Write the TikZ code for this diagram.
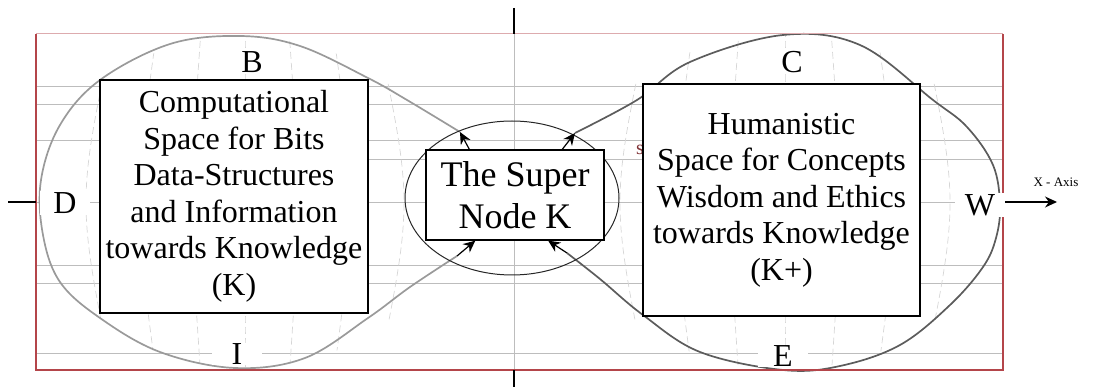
\documentclass[tikz,border=0pt]{standalone}
\usepackage{fontspec}
\setmainfont{Liberation Serif}
\usetikzlibrary{arrows.meta,positioning}
\definecolor{Frame}{HTML}{B4454A}
\definecolor{LobeLight}{HTML}{9A9A9A}
\definecolor{LobeDark}{HTML}{5C5C5C}
\definecolor{Rule}{HTML}{BDBDBD}
\tikzset{panel/.style={draw=black,line width=1.3pt,fill=white,align=center,inner sep=0pt,font=\fontsize{32}{36.5}\selectfont},tag/.style={fill=white,inner sep=1pt,minimum width=50pt,font=\fontsize{32}{32}\selectfont},link/.style={-{Stealth[length=12pt,width=11pt]},draw=black,line width=1.2pt},rule/.style={draw=Rule,line width=.9pt},meridian/.style={draw=black!16,dash pattern=on 7pt off 4pt,line width=.7pt},lobe/.style={line width=1.7pt}}

\begin{document}
\begin{tikzpicture}[x=1pt,y=-1pt]
\useasboundingbox (0,0) rectangle (1104,387);
\foreach \y in {86,104,140,202,265,283,353} \draw[rule] (36,\y) -- (1003,\y);
\draw[rule] (368,159) -- (1003,159);\draw[rule] (514,34) -- (514,370);
\begin{scope}\clip (245,202) ellipse [x radius=205,y radius=166];
\foreach \k in {-4,...,4} \draw[meridian] ({245+44*\k},30) .. controls ({245+56*\k},202) .. ({245+44*\k},380);
\end{scope}
\begin{scope}\clip (785,202) ellipse [x radius=214,y radius=167];
\foreach \k in {-4,...,4} \draw[meridian] ({785+46*\k},30) .. controls ({785+58*\k},202) .. ({785+46*\k},380);
\end{scope}
\coordinate (tl) at (460,132);\coordinate (tr) at (575,133);\coordinate (bl) at (457,256);\coordinate (br) at (567,253);
\draw[lobe,draw=LobeLight] plot[smooth,tension=.6] coordinates {(460,132) (407,100) (368,78) (300,46) (240,36) (170,44) (100,80) (60,125) (41,180) (43,235) (60,282) (100,318) (160,352) (235,368) (305,358) (368,318) (410,287) (457,256)};
\draw[lobe,draw=LobeDark] plot[smooth,tension=.6] coordinates {(575,133) (637,100) (690,62) (783,35) (860,45) (933,100) (967,127) (993,165) (1000,205) (996,238) (983,267) (950,305) (900,345) (840,366) (783,370) (700,352) (643,315) (600,279) (567,253)};
\draw[Frame!45,line width=1pt] (36,34) -- (1003,34);
\draw[Frame,line width=1.3pt] (36,34) -- (36,370) -- (1003,370) -- (1003,34);
\draw[line width=1.2pt] (514,8) -- (514,34);\draw[line width=1.2pt] (514,370) -- (514,387);\draw[line width=1.2pt] (8,202) -- (36,202);
\draw[black!85,line width=1pt] (512,198) ellipse [x radius=107,y radius=77];
\node[text=Frame!70!black,font=\fontsize{20}{20}\selectfont] (stray) at (640,150) {s};
\node[panel,minimum width=268pt,minimum height=233pt] (comp) at (234,196.5) {Computational\\Space for Bits\\Data-Structures\\and Information\\towards Knowledge\\(K)};
\node[panel,minimum width=277pt,minimum height=232pt] (human) at (781.5,200) {Humanistic\\Space for Concepts\\Wisdom and Ethics\\towards Knowledge\\(K+)};
\node[panel,minimum width=178pt,minimum height=90pt,font=\fontsize{36}{42}\selectfont] (super) at (515,195) {The Super\\Node K};
\draw[link] (super.135) -- (tl);\draw[link] (super.44) -- (tr);\draw[link] (bl) -- (super.229);\draw[link] (br) -- (super.306);
\node[tag] (b) at (252,62) {B};\node[tag] (c) at (792,62) {C};\node[tag] (d) at (65,203) {D};
\node[tag] (w) at (980,205) {W};\node[tag] (i) at (237,354) {I};\node[tag] (e) at (783,356) {E};
\coordinate (xend) at (1057,202);\draw[link,line width=1.3pt] (w.east |- xend) -- (xend);
\node[anchor=west,font=\fontsize{13}{13}\selectfont] (xlab) at (1030,182) {X - Axis};
\end{tikzpicture}
\end{document}
